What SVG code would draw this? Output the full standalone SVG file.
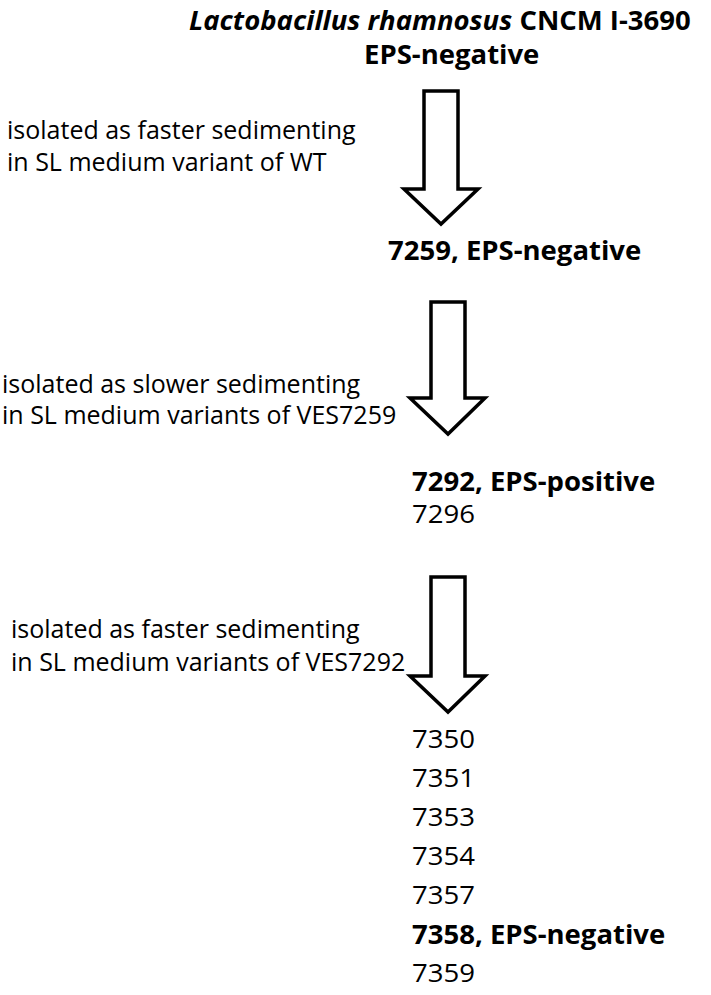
<svg xmlns="http://www.w3.org/2000/svg" width="711" height="995" viewBox="0 0 711 995">
<style>
text{font-family:"Open Sans","Noto Sans","Liberation Sans",sans-serif;fill:#000}
.r{font-size:25px}
.b{font-size:27.5px;font-weight:bold}
.arrow{fill:#fff;stroke:#000;stroke-width:3.5;stroke-linejoin:miter}
</style>
<rect width="711" height="995" fill="#fff"/>
<g id="connectors">
<path class="arrow" d="M424,91 H458 V189 H478 L441,224 L404,189 H424 Z"/>
<path class="arrow" d="M431,302 H465 V398 H485 L448,434 L410,398 H431 Z"/>
<path class="arrow" d="M431,577 H465 V676 H485 L448,712 L410,676 H431 Z"/>
</g>
<g id="node-wt">
<text class="b" x="189" y="30"><tspan font-style="italic">Lactobacillus rhamnosus</tspan> CNCM I-3690</text>
<text class="b" x="364" y="64">EPS-negative</text>
</g>
<g id="label-1">
<text class="r" x="7" y="139">isolated as faster sedimenting</text>
<text class="r" x="7" y="171">in SL medium variant of WT</text>
</g>
<g id="node-7259">
<text class="b" x="388" y="260">7259, EPS-negative</text>
</g>
<g id="label-2">
<text class="r" x="2" y="393">isolated as slower sedimenting</text>
<text class="r" x="2" y="424">in SL medium variants of VES7259</text>
</g>
<g id="node-7292">
<text class="b" x="412" y="491">7292, EPS-positive</text>
<text class="r" x="412" y="523" textLength="63" lengthAdjust="spacingAndGlyphs">7296</text>
</g>
<g id="label-3">
<text class="r" x="11" y="638">isolated as faster sedimenting</text>
<text class="r" x="11" y="671">in SL medium variants of VES7292</text>
</g>
<g id="node-7350">
<text class="r" x="412" y="748" textLength="63" lengthAdjust="spacingAndGlyphs">7350</text>
<text class="r" x="412" y="787" textLength="63" lengthAdjust="spacingAndGlyphs">7351</text>
<text class="r" x="412" y="826" textLength="63" lengthAdjust="spacingAndGlyphs">7353</text>
<text class="r" x="412" y="865" textLength="63" lengthAdjust="spacingAndGlyphs">7354</text>
<text class="r" x="412" y="904" textLength="63" lengthAdjust="spacingAndGlyphs">7357</text>
<text class="b" x="412" y="944">7358, EPS-negative</text>
<text class="r" x="412" y="982" textLength="63" lengthAdjust="spacingAndGlyphs">7359</text>
</g>
</svg>
